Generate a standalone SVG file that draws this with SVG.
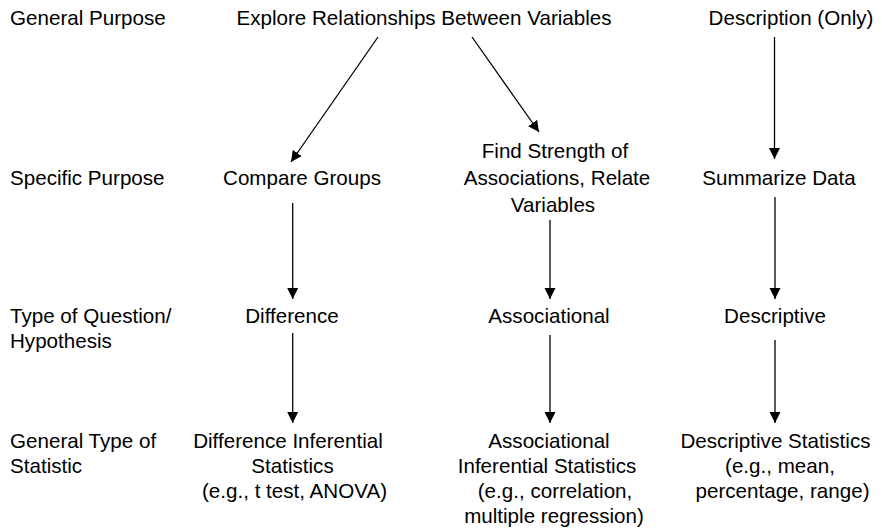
<svg xmlns="http://www.w3.org/2000/svg" width="882" height="530" viewBox="0 0 882 530">
<style>
text{font-family:"Liberation Sans",Arial,sans-serif;font-size:20.6px;fill:#000}
.c{text-anchor:middle}
.conn line{stroke:#000;stroke-width:1.3;fill:none;marker-end:url(#ah)}
</style>
<defs>
<marker id="ah" markerUnits="userSpaceOnUse" markerWidth="12" markerHeight="12" viewBox="0 0 12 12" refX="11" refY="6" orient="auto">
<path d="M0,0.5 L11,6 L0,11.5 Z" fill="#000"/>
</marker>
</defs>
<rect width="882" height="530" fill="#fff"/>
<g id="row-labels">
<text x="10" y="25">General Purpose</text>
<text x="10" y="185">Specific Purpose</text>
<text x="10" y="323">Type of Question/</text>
<text x="10" y="348">Hypothesis</text>
<text x="10" y="448">General Type of</text>
<text x="10" y="473">Statistic</text>
</g>
<g id="explore"><text class="c" x="424" y="25">Explore Relationships Between Variables</text></g>
<g id="description"><text class="c" x="791" y="25">Description (Only)</text></g>
<g id="compare"><text class="c" x="302" y="185">Compare Groups</text></g>
<g id="find"><text class="c" x="555" y="158">Find Strength of</text><text class="c" x="557" y="185">Associations, Relate</text><text class="c" x="553" y="212">Variables</text></g>
<g id="summarize"><text class="c" x="779" y="185">Summarize Data</text></g>
<g id="difference"><text class="c" x="292" y="323">Difference</text></g>
<g id="associational"><text class="c" x="549" y="323">Associational</text></g>
<g id="descriptive"><text class="c" x="775" y="323">Descriptive</text></g>
<g id="diff-stats"><text class="c" x="288" y="448">Difference Inferential</text><text class="c" x="292.5" y="473">Statistics</text><text class="c" x="294.5" y="498">(e.g., t test, ANOVA)</text></g>
<g id="assoc-stats"><text class="c" x="549" y="448">Associational</text><text class="c" x="547" y="473">Inferential Statistics</text><text class="c" x="555" y="498">(e.g., correlation,</text><text class="c" x="554" y="523">multiple regression)</text></g>
<g id="desc-stats"><text class="c" x="775.5" y="448">Descriptive Statistics</text><text class="c" x="780" y="473">(e.g., mean,</text><text class="c" x="782.5" y="498">percentage, range)</text></g>
<g class="conn" id="connectors">
<line x1="378" y1="37" x2="291" y2="162"/>
<line x1="472" y1="37" x2="539" y2="132"/>
<line x1="774.5" y1="37" x2="774.5" y2="159"/>
<line x1="292.7" y1="203" x2="292.7" y2="299"/>
<line x1="550" y1="220" x2="550" y2="299"/>
<line x1="775" y1="197" x2="775" y2="299"/>
<line x1="292.7" y1="333" x2="292.7" y2="423"/>
<line x1="550" y1="335" x2="550" y2="423"/>
<line x1="775" y1="340" x2="775" y2="423"/>
</g>
</svg>
